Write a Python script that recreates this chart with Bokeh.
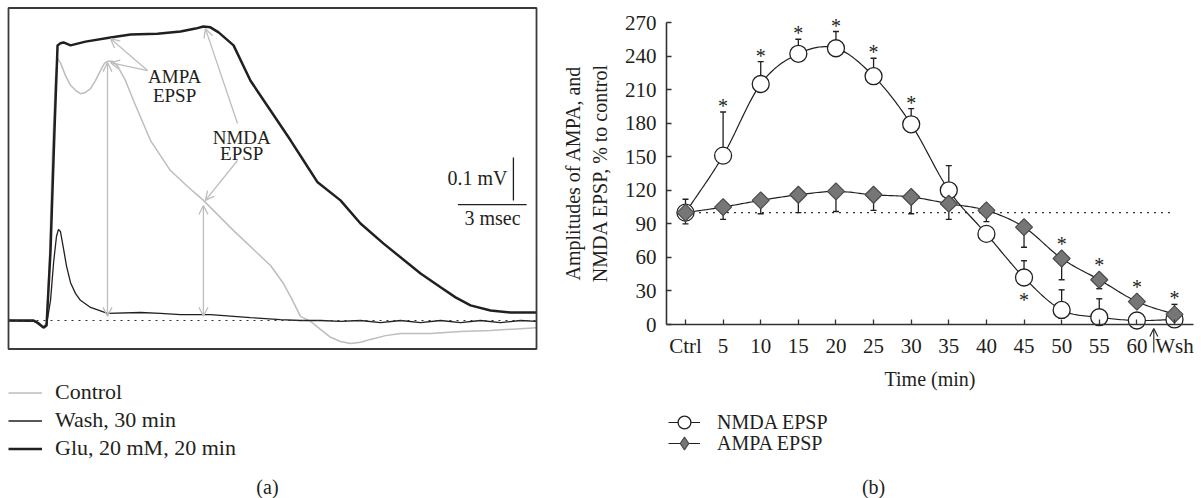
import math
import numpy as np
from bokeh.plotting import figure
from bokeh.models import (Range1d, FixedTicker, Arrow, OpenHead, Label, LabelSet,
                          Legend, ColumnDataSource, BoxAnnotation)
from bokeh.layouts import row
from bokeh.embed import file_html
from bokeh.resources import INLINE
from bokeh.core.properties import value

FONT = "Liberation Serif"
INK = "#231f20"
GREY = "#bdbdbd"

# ---------------- panel (a): traces, time in ms, potential in mV ----------------
ctrl_t = [0.00, 1.14, 1.36, 1.59, 1.73, 1.86, 2.00, 2.14, 2.23, 2.36, 2.59, 2.82, 3.05, 3.27,
          3.50, 3.73, 3.95, 4.18, 4.36, 4.50, 4.73, 4.95, 5.32, 5.68, 6.45, 7.36, 8.14, 8.86,
          10.23, 11.32, 11.91, 12.50, 12.91, 13.27, 13.73, 14.18, 14.64, 15.09, 15.55, 16.00,
          16.45, 17.14, 17.82, 19.18, 20.55, 21.91, 24.00]
ctrl_v = [0.000, 0.000, -0.005, -0.014, -0.005, 0.143, 0.405, 0.583, 0.624, 0.614, 0.583,
          0.560, 0.548, 0.540, 0.543, 0.552, 0.571, 0.595, 0.612, 0.617, 0.617, 0.607, 0.571,
          0.524, 0.429, 0.357, 0.319, 0.286, 0.214, 0.160, 0.131, 0.088, 0.048, 0.010, -0.002,
          -0.021, -0.040, -0.050, -0.055, -0.052, -0.045, -0.036, -0.031, -0.031, -0.026,
          -0.024, -0.017]

wash_t = [0.00, 1.14, 1.36, 1.59, 1.73, 1.91, 2.05, 2.18, 2.27, 2.36, 2.50, 2.64, 2.82, 3.05,
          3.27, 3.73, 4.50, 6.00, 6.91, 7.82, 9.18, 11.00, 12.36, 13.27, 14.18, 15.09, 16.00,
          16.91, 17.82, 18.73, 19.64, 20.55, 21.45, 22.36, 23.27, 24.00]
wash_v = [0.000, -0.002, -0.005, -0.017, -0.010, 0.048, 0.138, 0.200, 0.217, 0.212, 0.171,
          0.129, 0.090, 0.064, 0.048, 0.031, 0.017, 0.019, 0.017, 0.014, 0.014, 0.007, 0.002,
          0.000, 0.000, -0.002, 0.000, -0.005, 0.000, -0.005, 0.000, -0.005, 0.000, -0.005,
          0.000, -0.002]

glu_t = [0.00, 0.55, 1.14, 1.36, 1.59, 1.73, 1.91, 2.09, 2.23, 2.36, 2.50, 2.82, 3.50, 4.64,
         5.55, 6.77, 7.82, 8.50, 8.86, 9.18, 9.55, 10.23, 11.00, 11.91, 12.82, 13.41, 14.05,
         15.09, 16.00, 17.05, 18.73, 19.64, 20.32, 21.00, 21.91, 22.82, 24.00]
glu_v = [0.000, 0.000, 0.000, -0.007, -0.017, -0.012, 0.167, 0.452, 0.655, 0.660, 0.662,
         0.655, 0.664, 0.674, 0.681, 0.683, 0.688, 0.695, 0.700, 0.698, 0.686, 0.655, 0.571,
         0.500, 0.429, 0.381, 0.329, 0.286, 0.231, 0.183, 0.112, 0.079, 0.055, 0.036, 0.024,
         0.019, 0.019]

trace_labels = ["Control", "Wash, 30 min", "Glu, 20 mM, 20 min"]

# ---------------- panel (b): amplitudes, % of control ----------------
time_labels = ["Ctrl", "5", "10", "15", "20", "25", "30", "35", "40", "45", "50", "55", "60", "Wsh"]
nmda_mean = [100, 151, 215, 242, 247, 222, 179, 120, 81, 42, 13, 6.5, 3.6, 4.5]
nmda_err = [112, 190, 235, 255, 262, 238, 193, 142, np.nan, 57, 31, 23, np.nan, np.nan]
ampa_mean = [100, 105, 111, 116, 119, 116, 114, 108, 102, 87, 59, 40, 20.5, 9]
ampa_err = [90, 94, 99, 100, 101, 102, 99, 94, 92, 69, 40, 32, np.nan, 18]
nmda_sig_above = [1, 2, 3, 4, 5, 6]
nmda_sig_below = [9]
ampa_sig_above = [10, 11, 12, 13]
control_level = 100
y_ticks = [0, 30, 60, 90, 120, 150, 180, 210, 240, 270]
washout_at = 12.45
series_labels = ["NMDA EPSP", "AMPA EPSP"]
y_title = ["Amplitudes of AMPA, and", "NMDA EPSP, % to control"]
x_title = "Time (min)"


def smooth(xs, ys, n=16):
    P = np.column_stack([np.asarray(xs, float), np.asarray(ys, float)])
    P = np.vstack([2 * P[0] - P[1], P, 2 * P[-1] - P[-2]])
    out = []
    t = np.linspace(0, 1, n, endpoint=False)[:, None]
    for i in range(1, len(P) - 2):
        p0, p1, p2, p3 = P[i - 1], P[i], P[i + 1], P[i + 2]
        seg = 0.5 * ((2 * p1) + (-p0 + p2) * t + (2 * p0 - 5 * p1 + 4 * p2 - p3) * t ** 2
                     + (-p0 + 3 * p1 - 3 * p2 + p3) * t ** 3)
        out.append(seg)
    out.append(P[-2][None, :])
    arr = np.vstack(out)
    return arr[:, 0], arr[:, 1]


def txt(size="20px", align="center"):
    return dict(text_font=FONT, text_font_size=size, text_color=INK,
                text_align=align, text_baseline="middle")


def legend_style(**kw):
    base = dict(padding=0, margin=0, border_line_alpha=0, background_fill_alpha=0,
                label_text_font=FONT, label_text_color=INK)
    base.update(kw)
    return base


# ================= figure (a) =================
pA = figure(width=548, height=498, x_range=Range1d(-0.3636, 24.545),
            y_range=Range1d(-0.4238, 0.7619),
            x_axis_location=None, y_axis_location=None, output_backend="svg",
            toolbar_location=None, min_border=0, outline_line_color=None,
            background_fill_color="white", border_fill_color="white")
pA.grid.visible = False

pA.add_layout(BoxAnnotation(left=ctrl_t[0], right=ctrl_t[-1], bottom=-0.0679, top=0.744,
                            fill_alpha=0, line_color="#3a3a3a", line_alpha=1.0,
                            line_width=1.8))
r_c = pA.line(ctrl_t, ctrl_v, line_color=GREY, line_width=1.5)
r_w = pA.line(wash_t, wash_v, line_color=INK, line_width=1.3)
r_g = pA.line(glu_t, glu_v, line_color=INK, line_width=2.5)
pA.line([ctrl_t[0], ctrl_t[-1]], [0, 0], line_color="#333333", line_width=1.2, line_dash="2 5")


def garrow(x0, y0, x1, y1, both=False):
    head = dict(size=9, line_color=GREY, line_width=1.3)
    pA.add_layout(Arrow(start=OpenHead(**head) if both else None, end=OpenHead(**head),
                        x_start=x0, y_start=y0, x_end=x1, y_end=y1,
                        line_color=GREY, line_width=1.3))


garrow(4.50, 0.010, 4.50, 0.614, both=True)
garrow(8.86, 0.010, 8.86, 0.274, both=True)
garrow(6.32, 0.595, 4.64, 0.671)
garrow(6.32, 0.595, 4.64, 0.614)
garrow(10.41, 0.469, 8.95, 0.695)
garrow(10.41, 0.381, 8.95, 0.286)

for x, y, s in [(7.55, 0.581, "AMPA"), (7.55, 0.536, "EPSP"),
                (10.6, 0.436, "NMDA"), (10.6, 0.397, "EPSP")]:
    pA.add_layout(Label(x=x, y=y, text=s, **txt("19px")))

# scale bars
pA.segment(x0=[22.95], y0=[0.286], x1=[22.95], y1=[0.388], line_color=INK, line_width=1.3)
pA.segment(x0=[20.43], y0=[0.276], x1=[23.55], y1=[0.276], line_color=INK, line_width=1.3)
pA.add_layout(Label(x=22.68, y=0.340, text="0.1 mV", **txt("20px", "right")))
pA.add_layout(Label(x=22.0, y=0.243, text="3 msec", **txt("20px")))

legA = Legend(items=[(trace_labels[0], [r_c]), (trace_labels[1], [r_w]), (trace_labels[2], [r_g])],
              location=(8, 37), glyph_width=34, glyph_height=25, label_height=25,
              spacing=2, label_standoff=13,
              **legend_style(label_text_font_size="22px"))
pA.add_layout(legA)
pA.add_layout(Label(x=11.77, y=-0.3976, text="(a)", **txt("20px")))

# ================= figure (b) =================
x_idx = list(range(len(time_labels)))
pB = figure(width=653, height=498, x_range=Range1d(-3.642, 13.718),
            y_range=Range1d(-155.56, 289.67),
            output_backend="svg", toolbar_location=None, min_border=0,
            outline_line_color=None, background_fill_color="white", border_fill_color="white")
pB.grid.visible = False
pB.xaxis.fixed_location = 0
pB.yaxis.fixed_location = -0.505
pB.xaxis.bounds = (-0.505, 13.5)
pB.yaxis.bounds = (y_ticks[0], y_ticks[-1])
pB.xaxis.ticker = FixedTicker(ticks=x_idx)
pB.xaxis.major_label_overrides = {i: lab for i, lab in enumerate(time_labels)}
pB.yaxis.ticker = FixedTicker(ticks=y_ticks)
for ax in pB.axis:
    ax.axis_line_color = "#333333"
    ax.axis_line_width = 1.6
    ax.major_tick_line_color = "#333333"
    ax.major_tick_line_width = 1.3
    ax.major_tick_in = 5
    ax.major_tick_out = 0
    ax.minor_tick_line_color = None
    ax.major_label_text_font = FONT
    ax.major_label_text_font_size = "21px"
    ax.major_label_text_color = INK
pB.yaxis.major_label_standoff = 10
pB.xaxis.major_label_standoff = 9

pB.add_layout(Label(x=-2.978, y=135.4, text=y_title[0], angle=math.pi / 2, **txt("20px")))
pB.add_layout(Label(x=-2.260, y=135.4, text=y_title[1], angle=math.pi / 2, **txt("20px")))
pB.add_layout(Label(x=(x_idx[0] + x_idx[-1]) / 2, y=-48.3, text=x_title, **txt("20px")))

# control level
pB.line([x_idx[0] - 0.2, x_idx[-1]], [control_level, control_level],
        line_color="#333333", line_width=1.2, line_dash="2 5")

# error bars
pB.segment(x0=x_idx, y0=nmda_mean, x1=x_idx, y1=nmda_err, line_color=INK, line_width=1.3)
pB.scatter(x_idx, nmda_err, marker="dash", size=6, line_color=INK, line_width=1.4)
pB.segment(x0=x_idx, y0=ampa_mean, x1=x_idx, y1=ampa_err, line_color=INK, line_width=1.3)
pB.scatter(x_idx, ampa_err, marker="dash", size=6, line_color=INK, line_width=1.4)

sx, sy = smooth(x_idx, nmda_mean)
l_n = pB.line(sx, sy, line_color=INK, line_width=1.2)
sx, sy = smooth(x_idx, ampa_mean)
l_a = pB.line(sx, sy, line_color=INK, line_width=1.2)

AMPA_FILL, AMPA_EDGE = "#767676", "#4a4a4a"
s_n = pB.scatter(x_idx, nmda_mean, marker="circle", size=17, fill_color="white",
                 line_color=INK, line_width=1.3)
s_a = pB.scatter(x_idx, ampa_mean, marker="square", size=12, angle=math.pi / 4,
                 fill_color=AMPA_FILL, line_color=AMPA_EDGE, line_width=1.2)
# key glyph for the legend only (a single undefined point, never drawn in the plot)
k_a = pB.scatter(x=[np.nan], y=[np.nan], marker="diamond", size=12,
                 fill_color=AMPA_FILL, line_color=AMPA_EDGE, line_width=1.2)


# significance stars
def top_of(mean, err, i):
    e = err[i]
    t = mean[i] + 7.5
    if not np.isnan(e) and e > t:
        t = e
    return t


star_x, star_y = [], []
for i in nmda_sig_above:
    star_x.append(x_idx[i]); star_y.append(top_of(nmda_mean, nmda_err, i) + 8)
for i in nmda_sig_below:
    star_x.append(x_idx[i]); star_y.append(nmda_mean[i] - 17.5)
for i in ampa_sig_above:
    star_x.append(x_idx[i]); star_y.append(top_of(ampa_mean, ampa_err, i) + 8)
star_src = ColumnDataSource(dict(x=star_x, y=star_y, t=["*"] * len(star_x)))
pB.add_layout(LabelSet(x="x", y="y", text="t", source=star_src, y_offset=-3,
                       text_font=value(FONT), text_font_size="20px", text_color=INK,
                       text_align="center", text_baseline="middle"))

# washout arrow
pB.add_layout(Arrow(end=OpenHead(size=8, line_color=INK, line_width=1.1),
                    x_start=washout_at, y_start=-25, x_end=washout_at, y_end=-3.6,
                    line_color=INK, line_width=1.1))

legB1 = Legend(items=[(series_labels[0], [l_n, s_n])], location=(120, 57),
               glyph_width=32, glyph_height=38, label_height=20, spacing=0, label_standoff=17,
               **legend_style(label_text_font_size="20px"))
legB2 = Legend(items=[(series_labels[1], [l_a, k_a])], location=(120, 36),
               glyph_width=32, glyph_height=38, label_height=20, spacing=0, label_standoff=17,
               **legend_style(label_text_font_size="20px"))
pB.add_layout(legB1)
pB.add_layout(legB2)
pB.add_layout(Label(x=5.0, y=-145.0, text="(b)", **txt("20px")))

layout = row(pA, pB, spacing=0)
open("out.html", "w").write(file_html(layout, INLINE))
